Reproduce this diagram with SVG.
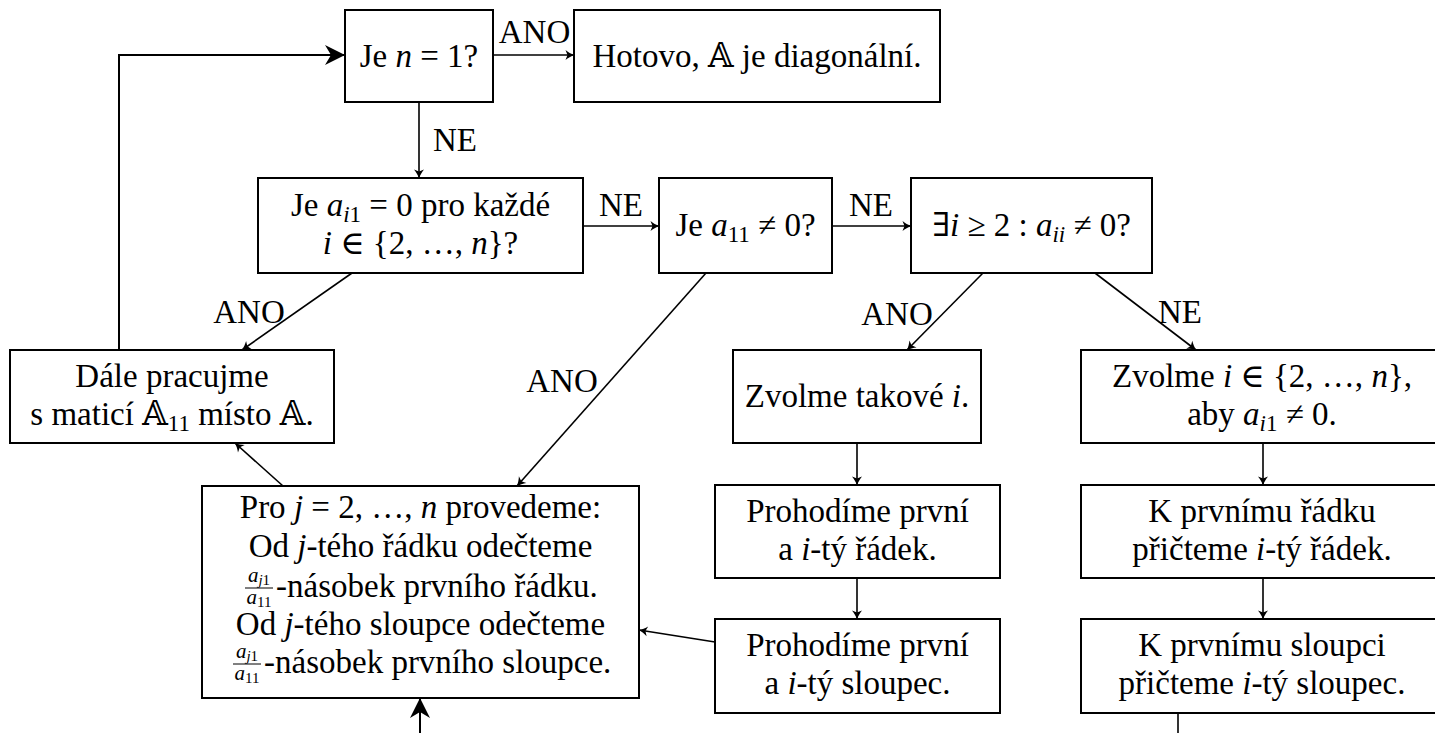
<svg xmlns="http://www.w3.org/2000/svg" width="1435" height="733" viewBox="0 0 1435 733">
<style>
text { font-family: "Liberation Serif", "DejaVu Serif", serif; font-size: 33px; fill: #000; }
.c { text-anchor: middle; }
.i { font-style: italic; }
.s { font-size: 23px; }
.fr { font-size: 21px; }
.fs { font-size: 15px; }
.box { fill: #fff; stroke: #000; stroke-width: 2; }
.ln { fill: none; stroke: #000; stroke-width: 1.6; }
.lnb { fill: none; stroke: #000; stroke-width: 2; }
.bar { stroke: #000; stroke-width: 1; }
</style>
<defs>
<marker id="to" viewBox="-10 -6 12 12" refX="0" refY="0" markerWidth="12" markerHeight="12" orient="auto" markerUnits="userSpaceOnUse">
<path d="M0.5,0 C-3,-1 -6,-3 -8.5,-5 L-6.5,0 L-8.5,5 C-6,3 -3,1 0.5,0 Z" fill="#000"/>
</marker>
<marker id="big" viewBox="-21 -11 23 22" refX="0" refY="0" markerWidth="23" markerHeight="22" orient="auto" markerUnits="userSpaceOnUse">
<path d="M1,0 L-19,-10 L-13,0 L-19,10 Z" fill="#000"/>
</marker>
</defs>
<rect width="1435" height="733" fill="#fff"/>

<g id="connectors">
<path class="lnb" d="M119,350 V55 H344" marker-end="url(#big)"/>
<path class="ln" d="M493,55 H574" marker-end="url(#to)"/>
<path class="ln" d="M419,102 V178" marker-end="url(#to)"/>
<path class="ln" d="M583,226 H659" marker-end="url(#to)"/>
<path class="ln" d="M832,226 H911" marker-end="url(#to)"/>
<path class="ln" d="M352,273 L242,350" marker-end="url(#to)"/>
<path class="ln" d="M706,273 L517,486" marker-end="url(#to)"/>
<path class="ln" d="M983,273 L907,350" marker-end="url(#to)"/>
<path class="ln" d="M1095,273 L1196,350" marker-end="url(#to)"/>
<path class="ln" d="M283,486 L235,443" marker-end="url(#to)"/>
<path class="ln" d="M857,443 V485" marker-end="url(#to)"/>
<path class="ln" d="M857,578 V619" marker-end="url(#to)"/>
<path class="ln" d="M715,642 L639,630" marker-end="url(#to)"/>
<path class="ln" d="M1263,443 V485" marker-end="url(#to)"/>
<path class="ln" d="M1263,578 V619" marker-end="url(#to)"/>
<path class="ln" d="M1178,713 V733"/>
<path class="lnb" d="M420,733 V699" marker-end="url(#big)"/>
<text class="c" x="534.5" y="43">ANO</text>
<text class="c" x="455" y="151">NE</text>
<text class="c" x="621" y="216">NE</text>
<text class="c" x="871" y="216">NE</text>
<text class="c" x="249" y="323">ANO</text>
<text class="c" x="562" y="392">ANO</text>
<text class="c" x="897" y="325">ANO</text>
<text class="c" x="1180" y="323">NE</text>
</g>

<g id="n-je-n1">
<rect class="box" x="345" y="10" width="148" height="92"/>
<text class="c" x="419" y="67">Je <tspan class="i">n</tspan> = 1?</text>
</g>

<g id="n-hotovo">
<rect class="box" x="574" y="10" width="366" height="92"/>
<text class="c" x="757" y="67">Hotovo, 𝔸 je diagonální.</text>
</g>

<g id="n-je-ai1">
<rect class="box" x="258" y="178" width="325" height="95"/>
<text class="c" x="420.5" y="216">Je <tspan class="i">a</tspan><tspan class="s i" dy="6">i</tspan><tspan class="s">1</tspan><tspan dy="-6"> = 0 pro každé</tspan></text>
<text class="c" x="420.5" y="254"><tspan class="i">i</tspan> ∈ {2, …, <tspan class="i">n</tspan>}?</text>
</g>

<g id="n-je-a11">
<rect class="box" x="659" y="178" width="173" height="95"/>
<text class="c" x="745.5" y="236">Je <tspan class="i">a</tspan><tspan class="s" dy="6">11</tspan><tspan dy="-6"> ≠ 0?</tspan></text>
</g>

<g id="n-exists">
<rect class="box" x="911" y="178" width="241" height="95"/>
<text class="c" x="1031.5" y="236">∃<tspan class="i">i</tspan> ≥ 2 : <tspan class="i">a</tspan><tspan class="s i" dy="6">ii</tspan><tspan dy="-6"> ≠ 0?</tspan></text>
</g>

<g id="n-dale">
<rect class="box" x="10" y="350" width="324" height="93"/>
<text class="c" x="172" y="387">Dále pracujme</text>
<text class="c" x="172" y="425">s maticí 𝔸<tspan class="s" dy="6">11</tspan><tspan dy="-6"> místo 𝔸.</tspan></text>
</g>

<g id="n-zvolme-takove">
<rect class="box" x="733" y="350" width="248" height="93"/>
<text class="c" x="857" y="407">Zvolme takové <tspan class="i">i</tspan>.</text>
</g>

<g id="n-zvolme-i">
<rect class="box" x="1081" y="350" width="362" height="93"/>
<text class="c" x="1262" y="387">Zvolme <tspan class="i">i</tspan> ∈ {2, …, <tspan class="i">n</tspan>},</text>
<text class="c" x="1262" y="425">aby <tspan class="i">a</tspan><tspan class="s i" dy="6">i</tspan><tspan class="s">1</tspan><tspan dy="-6">  ≠  0.</tspan></text>
</g>

<g id="n-pro-j">
<rect class="box" x="202" y="486" width="437" height="212"/>
<text class="c" x="420.5" y="518">Pro <tspan class="i">j</tspan> = 2, …, <tspan class="i">n</tspan> provedeme:</text>
<text class="c" x="420.5" y="557">Od <tspan class="i">j</tspan>-tého řádku odečteme</text>
<text class="c fr" x="259" y="582"><tspan class="i">a</tspan><tspan class="i fs" dy="3">j</tspan><tspan class="fs">1</tspan></text>
<line class="bar" x1="245" y1="588" x2="273" y2="588"/>
<text class="c fr" x="259" y="604"><tspan class="i">a</tspan><tspan class="fs" dy="3">11</tspan></text>
<text x="276" y="597">-násobek prvního řádku.</text>
<text class="c" x="420.5" y="635">Od <tspan class="i">j</tspan>-tého sloupce odečteme</text>
<text class="c fr" x="247" y="658"><tspan class="i">a</tspan><tspan class="i fs" dy="3">j</tspan><tspan class="fs">1</tspan></text>
<line class="bar" x1="233" y1="664" x2="261" y2="664"/>
<text class="c fr" x="247" y="680"><tspan class="i">a</tspan><tspan class="fs" dy="3">11</tspan></text>
<text x="264" y="673">-násobek prvního sloupce.</text>
</g>

<g id="n-prohodime-radek">
<rect class="box" x="715" y="485" width="285" height="93"/>
<text class="c" x="857.5" y="522">Prohodíme první</text>
<text class="c" x="857.5" y="560">a <tspan class="i">i</tspan>-tý řádek.</text>
</g>

<g id="n-prohodime-sloupec">
<rect class="box" x="715" y="619" width="285" height="94"/>
<text class="c" x="857.5" y="656">Prohodíme první</text>
<text class="c" x="857.5" y="694">a <tspan class="i">i</tspan>-tý sloupec.</text>
</g>

<g id="n-pricteme-radek">
<rect class="box" x="1081" y="485" width="362" height="93"/>
<text class="c" x="1262" y="522">K prvnímu řádku</text>
<text class="c" x="1262" y="560">přičteme <tspan class="i">i</tspan>-tý řádek.</text>
</g>

<g id="n-pricteme-sloupec">
<rect class="box" x="1081" y="619" width="362" height="94"/>
<text class="c" x="1262" y="656">K prvnímu sloupci</text>
<text class="c" x="1262" y="694">přičteme <tspan class="i">i</tspan>-tý sloupec.</text>
</g>
</svg>
